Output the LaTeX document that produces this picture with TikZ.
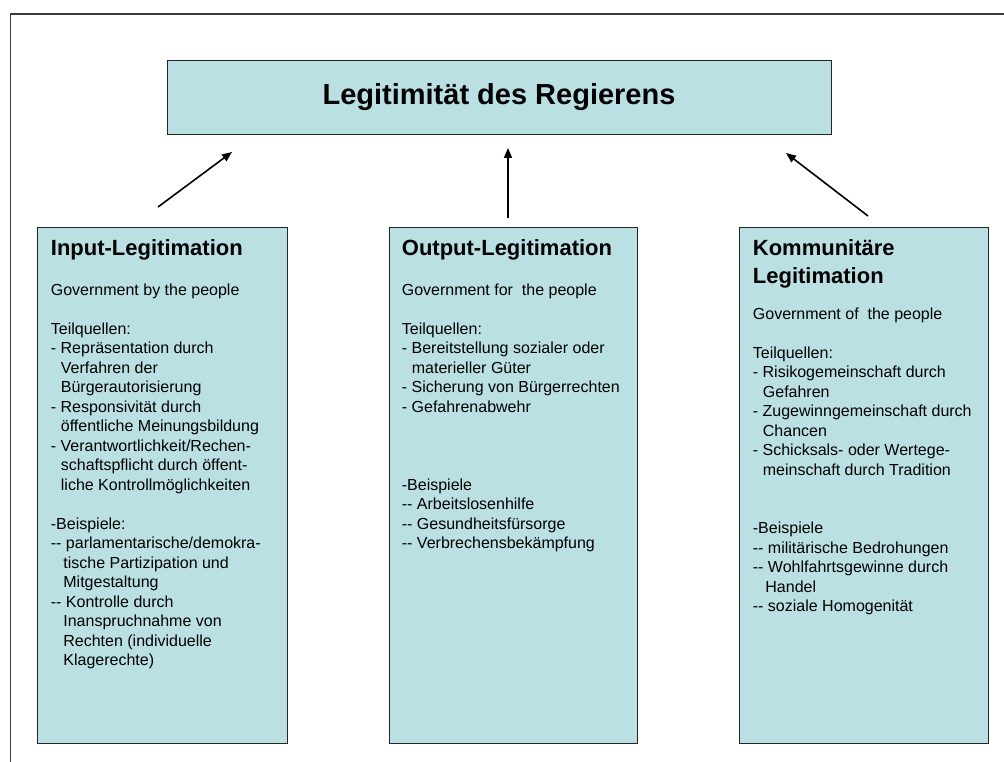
\documentclass[tikz,border=0pt]{standalone}
\usepackage{fontspec}
\setmainfont{Liberation Sans}
\usetikzlibrary{arrows.meta, calc, shadows}

\definecolor{boxblue}{RGB}{187,224,227}
\definecolor{framegray}{RGB}{60,60,60}

\newcommand{\subind}{\hspace*{10pt}}
\newcommand{\subsubind}{\hspace*{12.5pt}}

\tikzset{
  legbox/.style={draw=black!85, line width=0.8pt, fill=boxblue, inner sep=0pt,
    drop shadow={shadow xshift=1pt, shadow yshift=-1.2pt, fill=black!65, opacity=1}},
  srcbox/.style={legbox, minimum width=250pt, minimum height=516pt},
  head/.style={font=\fontsize{22}{28}\selectfont\bfseries, align=left, inner sep=0pt},
  body/.style={font=\fontsize{16}{19.5}\selectfont, align=left, inner sep=0pt, anchor=north west},
  arr/.style={line width=1.6pt, -{Triangle[length=10pt,width=8pt]}}
}

\begin{document}
\begin{tikzpicture}[x=1pt, y=-1pt]
  \useasboundingbox (0,0) rectangle (1004,762);

  % frame
  \draw[framegray, line width=1.2pt] (10.5,762) -- (10.5,14) -- (1004,14);

  \node [legbox, minimum width=664pt, minimum height=74pt,
         font=\fontsize{29}{34}\selectfont\bfseries] (title) at (499,97) {Legitimität des Regierens};

  \node [srcbox] (input) at (162,485) {};
  \node [srcbox, minimum width=248pt] (output) at (513,485) {};
  \node [srcbox, minimum width=249pt] (kommun) at (863.5,485) {};

  % input
  \node [head, anchor=base west] (inputhead) at (50.7,255) {Input-Legitimation};
  \node [body] (inputtext) at (50.7,283.5) {Government by the people\\[19.5pt]
    Teilquellen:\\
    - Repräsentation durch\\
    \subind Verfahren der\\
    \subind Bürgerautorisierung\\
    - Responsivität durch\\
    \subind öffentliche Meinungsbildung\\
    - Verantwortlichkeit/Rechen-\\
    \subind schaftspflicht durch öffent-\\
    \subind liche Kontrollmöglichkeiten\\[19.5pt]
    -Beispiele:\\
    -{}- parlamentarische/demokra-\\
    \subsubind tische Partizipation und\\
    \subsubind Mitgestaltung\\
    -{}- Kontrolle durch\\
    \subsubind Inanspruchnahme von\\
    \subsubind Rechten (individuelle\\
    \subsubind Klagerechte)};

  % output
  \node [head, anchor=base west] (outputhead) at (401.7,255) {Output-Legitimation};
  \node [body] (outputtext) at (401.7,283.5) {Government for~ the people\\[19.5pt]
    Teilquellen:\\
    - Bereitstellung sozialer oder\\
    \subind materieller Güter\\
    - Sicherung von Bürgerrechten\\
    - Gefahrenabwehr\\[58.5pt]
    -Beispiele\\
    -{}- Arbeitslosenhilfe\\
    -{}- Gesundheitsfürsorge\\
    -{}- Verbrechensbekämpfung};

  % kommunitaer
  \node [head, anchor=north west] (kommunhead) at (752.7,239.3) {Kommunitäre\\Legitimation};
  \node [body] (kommuntext) at (752.7,307.4) {Government of~ the people\\[19.5pt]
    Teilquellen:\\
    - Risikogemeinschaft durch\\
    \subind Gefahren\\
    - Zugewinngemeinschaft durch\\
    \subind Chancen\\
    - Schicksals- oder Wertege-\\
    \subind meinschaft durch Tradition\\[39pt]
    -Beispiele\\
    -{}- militärische Bedrohungen\\
    -{}- Wohlfahrtsgewinne durch\\
    \subsubind Handel\\
    -{}- soziale Homogenität};

  \coordinate (inTail) at (158,207);
  \coordinate (inTip) at (232,152);
  \coordinate (outTail) at (508,218);
  \coordinate (outTip) at (508,148);
  \coordinate (komTail) at (868,216);
  \coordinate (komTip) at (786,153);

  \draw [arr] (inTail) -- (inTip);
  \draw [arr] (outTail) -- (outTip);
  \draw [arr] (komTail) -- (komTip);

\end{tikzpicture}
\end{document}
